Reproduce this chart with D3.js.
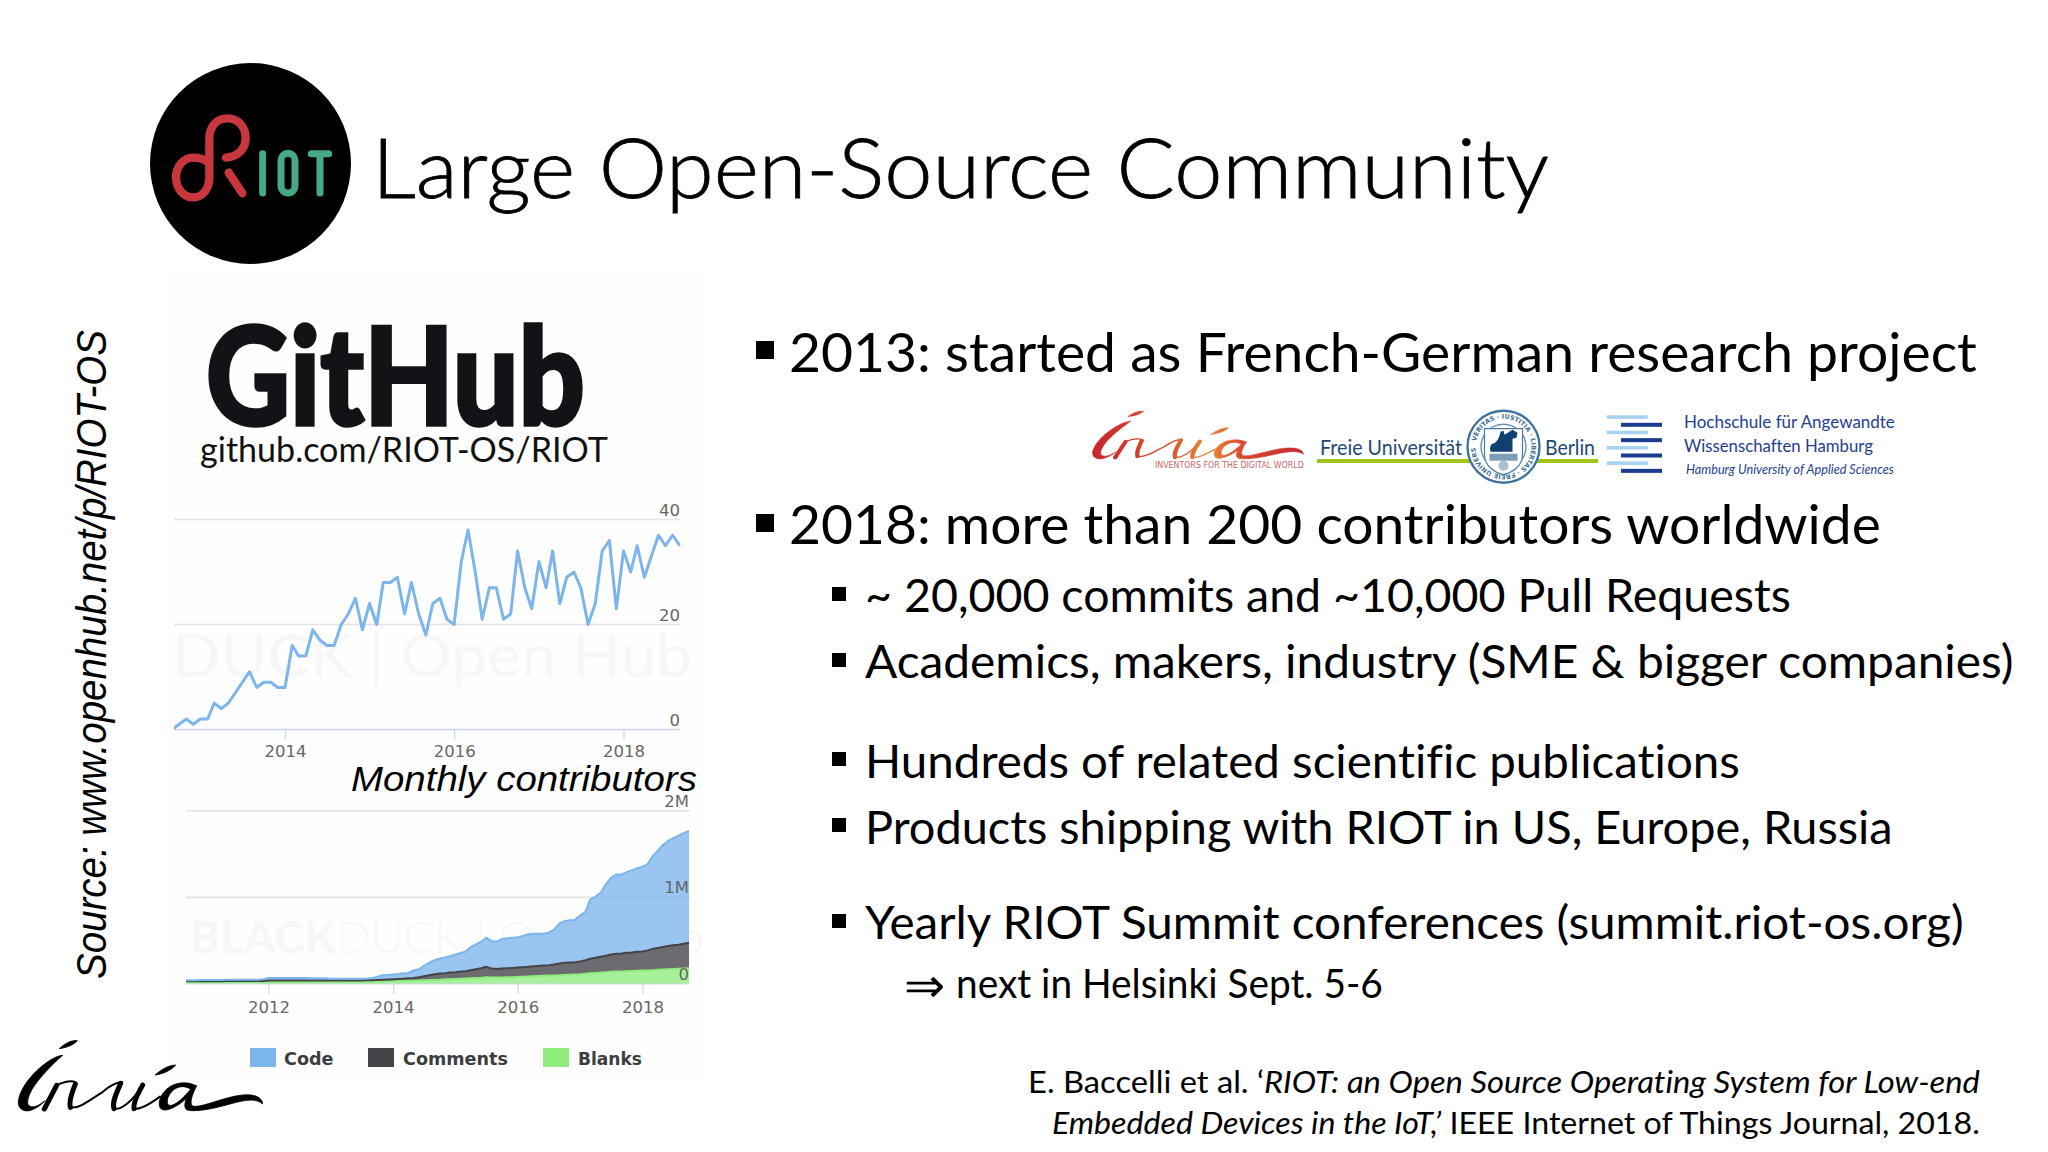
<!DOCTYPE html>
<html><head><meta charset="utf-8">
<script src="https://cdn.jsdelivr.net/npm/d3@7"></script>
<style>html,body{margin:0;padding:0;background:#fff}svg{display:block}text{font-variant-ligatures:none}</style>
</head><body><svg id="s" width="2048" height="1152" xmlns="http://www.w3.org/2000/svg"></svg>
<script>
// ---------- data ----------
const contributorValues=[0,1,2,1,2,2,5,4,5,7,9,11,8,9,9,8,8,16,14,14,19,17,16,16,20,22,25,19,24,20,28,28,29,22,28,22,18,24,25,21,20,32,38,30,21,27,27,21,22,34,27,23,32,27,34,24,29,30,27,20,24,34,36,23,34,30,35,29,33,37,35,37,35];
const contributorTicks=[2014,2016,2018];
const contributorYTicks=[0,20,40];

const codeValues=[12,12,12,13,13,13,14,14,14,14,15,15,15,16,16,18,
29,29,29,29,29,28,28,28,27,27,26,26,
22,22,20,20,20,20,21,22,24,39,52,54,56,
58,62,62,85,93,120,147,163,171,182,190,205,214,225,267,286,306,337,318,314,341,345,349,349,360,376,376,372,368,376,403,462,481,488,488,531,558,686,706,740,825,884,915,911,931,950,965,977,996,1066,1124,1179,1213,1236,1260,1275,1290];
const commentValues=[12,12,12,12,12,12,12,12,12,12,12,12,12,12,12,13,
16,16,16,16,16,16,16,16,16,16,16,16,16,16,16,16,
16,16,16,17,18,19,20,21,22,
23,26,29,32,38,46,56,65,70,70,76,78,83,84,93,102,110,120,103,100,102,104,107,109,110,112,116,118,119,120,126,134,140,141,143,148,157,167,174,182,190,201,206,208,212,214,220,221,231,243,251,259,268,273,277,286,295];
const blankValues=[20,20,20,20,21,21,21,21,22,22,22,22,22,22,22,23,
24,24,24,24,24,24,24,24,24,24,24,24,24,24,24,24,
25,25,25,25,26,27,28,30,32,
35,36,37,38,40,43,45,47,50,54,56,58,60,63,66,69,72,78,75,74,76,78,79,81,84,86,89,91,94,97,99,102,104,107,109,112,118,124,128,132,136,140,143,145,148,150,152,155,157,160,164,167,170,173,176,179,182];
const locTicks=[2012,2014,2016,2018];
const locYTicks=[0,1000,2000];
const locYLabels=["0","1M","2M"];
const legendNames=["Code","Comments","Blanks"];
const legendColors=["#7cb5ec","#434348","#90ed7d"];

const mainBullets=["2013: started as French-German research project","2018: more than 200 contributors worldwide"];
const subBullets=["~ 20,000 commits and ~10,000 Pull Requests","Academics, makers, industry (SME & bigger companies)","Hundreds of related scientific publications","Products shipping with RIOT in US, Europe, Russia","Yearly RIOT Summit conferences (summit.riot-os.org)"];

// ---------- helpers ----------
const svg=d3.select("#s");
const defs=svg.append("defs");
const LATO="Lato, Carlito, 'Open Sans', sans-serif";
const CHART="'DejaVu Sans', 'Open Sans', sans-serif";
function fit(t,x0,x1,y){
  const n=t.node(); const w=n.getComputedTextLength();
  t.attr("x",0).attr("y",0).attr("text-anchor","start")
   .attr("transform",`translate(${x0},${y}) scale(${(x1-x0)/w},1)`);
  return t;
}
function text(str,size,opt={}){
  return svg.append("text").text(str).attr("font-size",size)
    .attr("font-family",opt.family||LATO).attr("font-weight",opt.weight||400)
    .attr("font-style",opt.style||"normal").attr("fill",opt.fill||"#000");
}

// backdrop of the pasted screenshots
svg.append("rect").attr("x",165).attr("y",272).attr("width",538).attr("height",810).attr("fill","#fefefe");

// ---------- title and logo ----------
svg.append("circle").attr("cx",250.5).attr("cy",163.5).attr("r",100.5).attr("fill","#000");
const riot=svg.append("g").attr("transform","translate(150,60) scale(0.3333)").attr("fill","none").attr("stroke-linecap","round");
riot.append("path").attr("stroke","#c8373e").attr("stroke-width",25)
  .attr("d","M228,293 C268,290 287,262 287,235 C287,197 262,175 232,175 C197,175 178,203 178,235 L178,350 C178,385 160,412 130,412 C100,412 78,385 78,352 C78,318 102,293 130,293 C148,293 165,299 176,308");
riot.append("path").attr("stroke","#c8373e").attr("stroke-width",25).attr("d","M236,338 L277,400");
const G="#45a88a";
riot.append("path").attr("stroke",G).attr("stroke-width",21).attr("d","M338,281 L338,399");
riot.append("rect").attr("x",393).attr("y",280).attr("width",42).attr("height",119).attr("rx",21).attr("stroke",G).attr("stroke-width",21);
riot.append("path").attr("stroke",G).attr("stroke-width",21).attr("d","M484,281 L536,281 M510,281 L510,399");

fit(text("Large Open-Source Community",82,{weight:300}).attr("stroke","#000").attr("stroke-width",.8),372,1549,198);

// ---------- GitHub heading ----------
fit(text("GitHub",136,{weight:900,fill:"#141216"}).attr("stroke","#141216").attr("stroke-width",3.5),206,585,425);
fit(text("github.com/RIOT-OS/RIOT",34,{fill:"#111"}),200,608,462);

// rotated source
svg.append("text").text("Source: www.openhub.net/p/RIOT-OS")
  .attr("font-family","'Liberation Sans', Arial, sans-serif").attr("font-style","italic").attr("font-size",43)
  .attr("id","srcText").attr("fill","#000");
(function(){const t=d3.select("#srcText");const w=t.node().getComputedTextLength();
 t.attr("transform",`translate(106,979) rotate(-90) scale(${649/w},1)`);})();

// ---------- chart 1: monthly contributors ----------
const months1=d3.utcMonth.range(new Date(Date.UTC(2012,8,1)),new Date(Date.UTC(2018,9,1)));
const x1=d3.scaleUtc().domain([new Date(Date.UTC(2014,0,1)),new Date(Date.UTC(2018,0,1))]).range([285,623.5]);
const y1=d3.scaleLinear().domain([0,40]).range([729.5,519.5]);
defs.append("clipPath").attr("id","c1").append("rect").attr("x",174).attr("y",500).attr("width",530).attr("height",240);
defs.append("clipPath").attr("id","c1b").append("rect").attr("x",174).attr("y",500).attr("width",506.5).attr("height",240);
const wm1=svg.append("g").attr("clip-path","url(#c1)");
const wm1t=wm1.append("text").attr("font-family",LATO).attr("font-size",60).attr("fill","#f7f6f8");
wm1t.append("tspan").text("DUCK | Open Hub");
fit(wm1t,172,692,677);

const g1=svg.append("g");
g1.selectAll("line.grid").data(contributorYTicks.slice(1)).join("line")
  .attr("x1",174).attr("x2",680).attr("y1",d=>y1(d)).attr("y2",d=>y1(d)).attr("stroke","#e4e2e6").attr("stroke-width",1.6);
const ax1=g1.append("g").attr("transform",`translate(0,${y1(0)})`)
  .call(d3.axisBottom(x1).tickValues(contributorTicks.map(y=>new Date(Date.UTC(y,0,1)))).tickFormat(d3.utcFormat("%Y")).tickSize(10).tickPadding(6));
ax1.select(".domain").attr("d","M174,0H680").attr("stroke","#ccd6eb").attr("stroke-width",1.5);
ax1.selectAll("line").attr("stroke","#ccd6eb").attr("stroke-width",1.2);
ax1.selectAll("text").attr("font-family",CHART).attr("font-size",16.5).attr("fill","#666");
g1.selectAll("text.yl").data(contributorYTicks).join("text").attr("class","yl")
  .attr("x",680).attr("y",d=>y1(d)-3.5).attr("text-anchor","end").attr("font-family",CHART).attr("font-size",16.5).attr("fill","#666").text(d=>d);
g1.append("path").datum(contributorValues).attr("clip-path","url(#c1b)")
  .attr("fill","none").attr("stroke","#7cb5ec").attr("stroke-width",3).attr("stroke-linejoin","round")
  .attr("d",d3.line().x((d,i)=>x1(months1[i])).y(d=>y1(d)));

fit(text("Monthly contributors",36,{family:"'Liberation Sans', Arial, sans-serif",style:"italic"}),351,697,791);

// ---------- chart 2: lines of code ----------
const months2=d3.utcMonth.range(new Date(Date.UTC(2010,8,1)),new Date(Date.UTC(2018,10,1)));
const x2=d3.scaleUtc().domain([new Date(Date.UTC(2012,0,1)),new Date(Date.UTC(2018,0,1))]).range([268.4,642.4]);
const y2=d3.scaleLinear().domain([0,2000]).range([984,810.7]);
const table=months2.map((m,i)=>({m,Code:codeValues[i],Comments:commentValues[i],Blanks:blankValues[i]}));
const stacked=d3.stack().keys(["Blanks","Comments","Code"])(table);
const wm2t=svg.append("text").attr("font-family",LATO).attr("font-size",44).attr("fill","#f7f7f7");
wm2t.append("tspan").attr("font-weight",900).text("BLACK");
wm2t.append("tspan").attr("font-weight",300).text("DUCK | Open Hub");
fit(wm2t,190,704,953);

const g2=svg.append("g");
g2.selectAll("line.grid").data(locYTicks.slice(1)).join("line")
  .attr("x1",186).attr("x2",690).attr("y1",d=>y2(d)).attr("y2",d=>y2(d)).attr("stroke","#e4e4e4").attr("stroke-width",1.6);
const colorOf={Code:legendColors[0],Comments:legendColors[1],Blanks:legendColors[2]};
const area2=d3.area().x(d=>x2(d.data.m)).y0(d=>y2(d[0])).y1(d=>y2(d[1]));
const line2=d3.line().x(d=>x2(d.data.m)).y(d=>y2(d[1]));
defs.append("clipPath").attr("id","c2").append("rect").attr("x",186).attr("y",800).attr("width",504).attr("height",184.5);
const marks=g2.append("g").attr("clip-path","url(#c2)");
marks.selectAll("path.a").data(stacked).join("path").attr("class","a")
  .attr("fill",d=>colorOf[d.key]).attr("fill-opacity",.78).attr("d",area2);
marks.selectAll("path.l").data(stacked).join("path").attr("class","l")
  .attr("fill","none").attr("stroke",d=>colorOf[d.key]).attr("stroke-width",2).attr("d",line2);
const ax2=g2.append("g").attr("transform",`translate(0,${y2(0)})`)
  .call(d3.axisBottom(x2).tickValues(locTicks.map(y=>new Date(Date.UTC(y,0,1)))).tickFormat(d3.utcFormat("%Y")).tickSize(10).tickPadding(7));
ax2.select(".domain").attr("d","M186,0H690").attr("stroke","#ccd6eb").attr("stroke-width",1.2);
ax2.selectAll("line").attr("stroke","#ccd6eb").attr("stroke-width",1.2);
ax2.selectAll("text").attr("font-family",CHART).attr("font-size",16.5).attr("fill","#666");
g2.selectAll("text.yl").data(locYTicks).join("text").attr("class","yl")
  .attr("x",689).attr("y",d=>y2(d)-4).attr("text-anchor","end").attr("font-family",CHART).attr("font-size",16.5).attr("fill","#666").text((d,i)=>locYLabels[i]);

// legend
const legendX=[250,368,543], legendTX=[[284,333.5],[403,508],[578,642]];
legendNames.forEach((n,i)=>{
  svg.append("rect").attr("x",legendX[i]).attr("y",1048).attr("width",26).attr("height",19).attr("fill",legendColors[i]);
  fit(text(n,18,{family:CHART,weight:700,fill:"#3d3d40"}),legendTX[i][0],legendTX[i][1],1065);
});

// ---------- inria script logo (drawn once as a symbol, used twice) ----------
const grad=defs.append("linearGradient").attr("id","inr").attr("gradientUnits","userSpaceOnUse").attr("x1",50).attr("x2",790).attr("y1",0).attr("y2",0);
[[0,"#c8242e"],[.35,"#d8502e"],[.55,"#e9883c"],[.72,"#d8482e"],[1,"#c8242e"]].forEach(s=>grad.append("stop").attr("offset",s[0]).attr("stop-color",s[1]));
function inria(parent,color){
  const g=parent.append("g");
  const fills=[
   "M178,56 C195,40 215,30 232,32 C222,44 200,53 178,56Z",
   "M188,76 C150,78 65,150 55,212 C52,238 75,248 95,240 C112,233 125,224 135,212 C118,226 102,234 90,229 C78,224 82,205 95,180 C115,145 160,100 188,76Z",
   "M465,135 C485,118 505,106 527,105 C515,120 490,132 465,135Z",
   "M788,222 C770,205 740,208 690,222 C650,233 600,246 565,241 C552,238 552,222 560,205 C530,232 498,246 485,238 C470,228 478,190 510,170 C535,155 565,155 590,168 L572,178 C555,165 530,168 515,185 C500,202 498,222 508,226 C522,230 550,205 572,178 L590,168 C575,195 568,222 578,228 C595,234 640,215 690,202 C735,190 785,190 788,222Z"
  ];
  g.selectAll("path.f").data(fills).join("path").attr("d",d=>d).attr("fill",color).attr("stroke",color).attr("stroke-width",2.5);
  const thin=[
   "M168,168 C185,155 215,150 228,158",
   "M212,232 C235,238 270,210 305,188 C325,170 345,158 366,156",
   "M342,236 C360,240 392,222 428,165",
   "M402,236 C420,240 450,222 480,200"
  ];
  g.selectAll("path.t").data(thin).join("path").attr("d",d=>d).attr("fill","none").attr("stroke",color).attr("stroke-width",6).attr("stroke-linecap","round");
  const thick=[
   "M170,166 L133,237",
   "M226,162 C218,185 205,210 211,232",
   "M362,160 C352,185 335,215 342,236",
   "M428,165 C418,185 398,215 402,236"
  ];
  g.selectAll("path.k").data(thick).join("path").attr("d",d=>d).attr("fill","none").attr("stroke",color).attr("stroke-width",15).attr("stroke-linecap","round");
  return g;
}
inria(svg,"#000").attr("transform","translate(0,1030) scale(0.3333)");
inria(svg,"url(#inr)").attr("transform","translate(1076.8,403.9) scale(0.2876,0.2267)");
fit(text("INVENTORS FOR THE DIGITAL WORLD",9.5,{family:CHART,weight:400,fill:"#c9636a"}),1155,1304,468);

// ---------- Freie Universitaet ----------
svg.append("rect").attr("x",1317).attr("y",459).attr("width",281).attr("height",4).attr("fill","#9fc51a");
fit(text("Freie Universität",22,{fill:"#1f4a75"}),1320,1462,455);
fit(text("Berlin",22,{fill:"#1f4a75"}),1545,1595,455);
const seal=svg.append("g").attr("transform","translate(1503.5,446.7)");
seal.append("circle").attr("r",36).attr("fill","#fff").attr("stroke","#3f74a0").attr("stroke-width",2.4);
seal.append("circle").attr("r",22.5).attr("fill","#fff").attr("stroke","#6b92b4").attr("stroke-width",1.4);
defs.append("path").attr("id","sealArc").attr("d","M-28,0 A28,28 0 1 1 28,0 A28,28 0 1 1 -28,0");
seal.append("text").attr("font-family",CHART).attr("font-size",6.4).attr("font-weight",600).attr("fill","#3f6f9a")
  .append("textPath").attr("href","#sealArc").attr("startOffset","3%").text("VERITAS · IUSTITIA · LIBERTAS · FREIE UNIVERSITÄT BERLIN");
seal.append("path").attr("d","M-19,-18 H19 V8 C19,20 8,26 0,28 C-8,26 -19,20 -19,8Z").attr("fill","#fff").attr("stroke","#4b7aa5").attr("stroke-width",1.2);
seal.append("path").attr("d","M-11,-3 C-6,-4 -4,-10 -3,-15 L0,-16 L1,-12 L9,-17 L14,-14 L13,-9 L9,-8 L9,5 L-13,5 C-14,1 -13,-2 -11,-3Z").attr("fill","#10406f");
seal.append("rect").attr("x",-14).attr("y",7).attr("width",28).attr("height",7).attr("fill","#7d9cb8");
seal.append("circle").attr("cx",0).attr("cy",19).attr("r",5).attr("fill","#a9bfd2");

// ---------- HAW Hamburg ----------
const hawRows=[0,1,2,3];
svg.selectAll("rect.hl").data(hawRows).join("rect").attr("x",1606.7).attr("width",41).attr("y",d=>415.3+d*15.35).attr("height",3.6).attr("fill","#a9d2ee");
svg.selectAll("rect.hd").data(hawRows).join("rect").attr("x",1621).attr("width",41).attr("y",d=>422.8+d*15.35).attr("height",4).attr("fill","#1a3d92");
fit(text("Hochschule für Angewandte",17,{fill:"#23408f"}),1684,1895,428);
fit(text("Wissenschaften Hamburg",17,{fill:"#23408f"}),1684,1873,452);
fit(text("Hamburg University of Applied Sciences",13,{style:"italic",fill:"#23408f"}),1686,1894,474);

// ---------- bullets ----------
const mainLayout=[[789,1977,372,341],[789,1881,544,514]];
mainBullets.forEach((s,i)=>{
  const L=mainLayout[i];
  svg.append("rect").attr("x",756).attr("y",L[3]).attr("width",18).attr("height",18).attr("fill","#000");
  fit(text(s,54),L[0],L[1],L[2]);
});
const subLayout=[[1791,612,587],[2014,678,653],[1740,778,752],[1893,844,818],[1964,939,914]];
subBullets.forEach((s,i)=>{
  const L=subLayout[i];
  svg.append("rect").attr("x",832).attr("y",L[2]).attr("width",14).attr("height",14).attr("fill","#000");
  fit(text(s,46),865,L[0],L[1]);
});
text("⇒",48,{family:"'Liberation Serif',serif"}).call(t=>fit(t,904,945,1002));
fit(text("next in Helsinki Sept. 5-6",40),956,1383,998);

// ---------- citation ----------
const c1=text("",31); c1.append("tspan").text("E. Baccelli et al. ‘"); c1.append("tspan").attr("font-style","italic").text("RIOT: an Open Source Operating System for Low-end");
fit(c1,1028,1980,1093);
const c2=text("",31); c2.append("tspan").attr("font-style","italic").text("Embedded Devices in the IoT,’"); c2.append("tspan").text(" IEEE Internet of Things Journal, 2018.");
fit(c2,1052,1980,1134);
</script></body></html>
